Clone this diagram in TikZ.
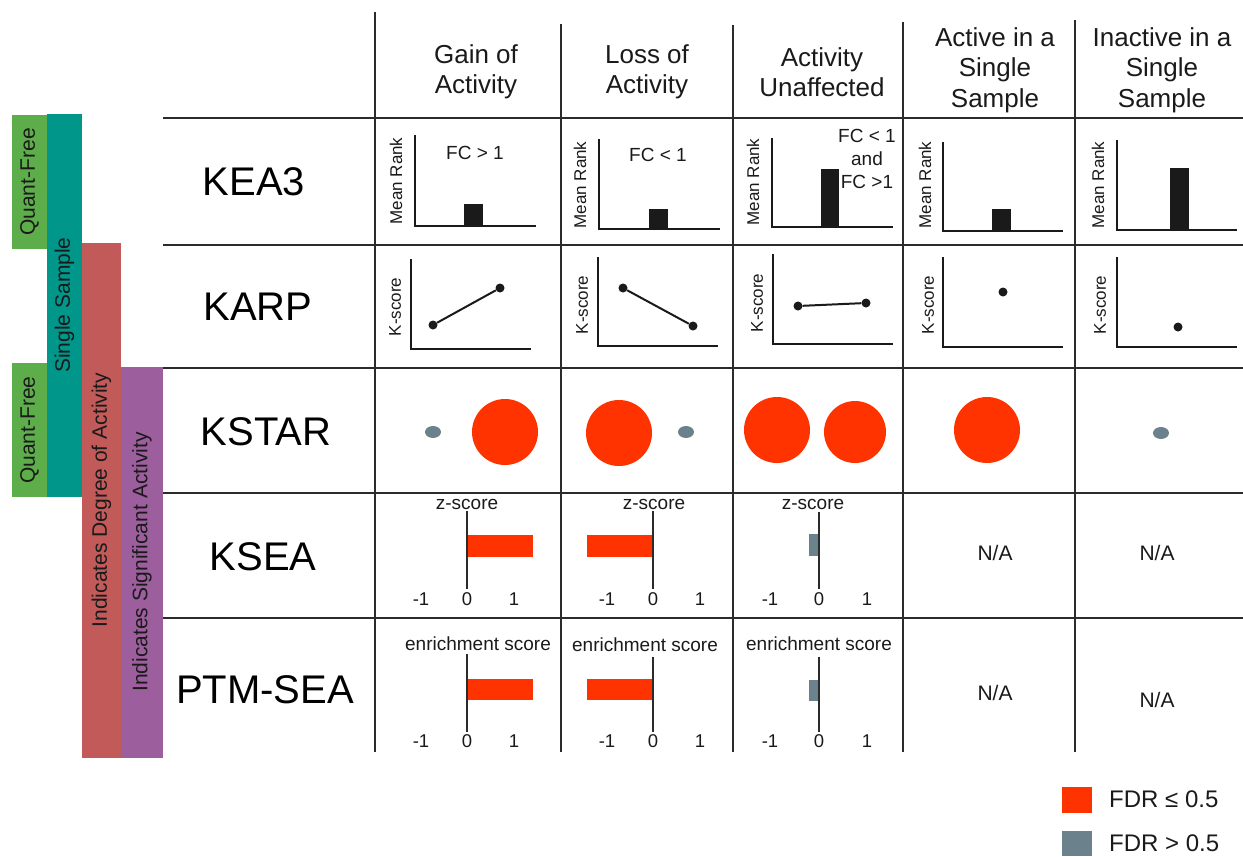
\documentclass[tikz,border=0pt]{standalone}
\usepackage{fontspec}
\setmainfont{Liberation Sans}
\definecolor{qgreen}{HTML}{5DAE4B}
\definecolor{steal}{HTML}{00968A}
\definecolor{dred}{HTML}{C25A5A}
\definecolor{dpurp}{HTML}{9D5E9D}
\definecolor{fdrred}{HTML}{FF3300}
\definecolor{fdrgray}{HTML}{6B818C}
\definecolor{gridc}{HTML}{2B2B2B}
\definecolor{ink}{HTML}{1A1A1A}
\tikzset{
  gridline/.style={line width=2.8pt, draw=gridc},
  axisline/.style={line width=2.6pt, draw=ink, line join=miter},
  zeroline/.style={line width=2.6pt, draw=gridc},
  barbox/.style={fill=ink},
  hdr/.style={align=center, text=ink, font=\fontsize{26}{30.5}\selectfont, inner sep=0pt},
  rowlab/.style={text=black, font=\fontsize{40}{44}\selectfont, inner sep=0pt},
  bartext/.style={rotate=90, text=ink, font=\fontsize{21}{24}\selectfont, inner sep=0pt},
  ylab/.style={rotate=90, text=ink, font=\fontsize{17}{19}\selectfont, inner sep=0pt},
  small/.style={text=ink, font=\fontsize{19}{23}\selectfont, inner sep=0pt, align=center},
  tick/.style={text=ink, font=\fontsize{18.5}{20}\selectfont, inner sep=0pt},
  na/.style={text=ink, font=\fontsize{21}{24}\selectfont, inner sep=0pt},
  legtext/.style={text=ink, font=\fontsize{24}{28}\selectfont, inner sep=0pt, anchor=west},
  dot/.style={circle, fill=ink, inner sep=0pt, minimum size=9pt},
  link/.style={line width=2pt, draw=ink},
}
\begin{document}
\begin{tikzpicture}[x=1pt,y=-1pt]
\useasboundingbox (0,0) rectangle (1243,857);

% ---- left category bars ----
\fill[qgreen] (12,115) rectangle (47,249);
\fill[steal] (47,114) rectangle (82,497);
\fill[qgreen] (12,363) rectangle (47,497);
\fill[dred] (82,243) rectangle (121,758);
\fill[dpurp] (121,367) rectangle (163,758);
\node[bartext] (qf1) at (29.5,182) {Quant-Free};
\node[bartext] (ss) at (64.5,305) {Single Sample};
\node[bartext] (qf2) at (29.5,430) {Quant-Free};
\node[bartext] (ida) at (101.5,500) {Indicates Degree of Activity};
\node[bartext] (isa) at (142,562) {Indicates Significant Activity};

% ---- grid ----
\foreach \yy in {118,245,368,493,618} \draw[gridline] (163,\yy) -- (1243,\yy);
\draw[gridline] (375,12) -- (375,752);
\draw[gridline] (561,24) -- (561,752);
\draw[gridline] (733,25) -- (733,752);
\draw[gridline] (903,22) -- (903,752);
\draw[gridline] (1075,20) -- (1075,752);

% ---- headers ----
\node[hdr] (h1) at (476,72) {Gain of\\Activity};
\node[hdr] (h2) at (647,72) {Loss of\\Activity};
\node[hdr] (h3) at (822,72) {Activity\\Unaffected};
\node[hdr] (h4) at (995,70) {Active in a\\Single\\Sample};
\node[hdr] (h5) at (1162,70) {Inactive in a\\Single\\Sample};

% ---- row labels ----
\node[rowlab] (r1) at (254,182) {KEA3};
\node[rowlab] (r2) at (258,307) {KARP};
\node[rowlab] (r3) at (266,432) {KSTAR};
\node[rowlab] (r4) at (263,557) {KSEA};
\node[rowlab] (r5) at (265,690) {PTM-SEA};

% ---- KEA3 ----
\draw[axisline] (415,135) -- (415,226) -- (536,226);
\fill[barbox] (464,204) rectangle (483,226);
\node[small] (k1t) at (475,153) {FC > 1};
\node[ylab] (k1y) at (396,181) {Mean Rank};

\draw[axisline] (599,139) -- (599,229) -- (720,229);
\fill[barbox] (649,209) rectangle (668,229);
\node[small] (k2t) at (658,155) {FC < 1};
\node[ylab] (k2y) at (580,185) {Mean Rank};

\draw[axisline] (772,138) -- (772,227) -- (893,227);
\fill[barbox] (821,169) rectangle (839,227);
\node[small] (k3t) at (867,159) {FC < 1\\and\\FC >1};
\node[ylab] (k3y) at (753,182) {Mean Rank};

\draw[axisline] (943,142) -- (943,231) -- (1063,231);
\fill[barbox] (992,209) rectangle (1011,231);
\node[ylab] (k4y) at (925,185) {Mean Rank};

\draw[axisline] (1117,140) -- (1117,230) -- (1237,230);
\fill[barbox] (1170,168) rectangle (1189,230);
\node[ylab] (k5y) at (1098,185) {Mean Rank};

% ---- KARP ----
\draw[axisline] (411,259) -- (411,349) -- (531,349);
\node[dot] (p1a) at (433,325) {};
\node[dot] (p1b) at (500,288) {};
\draw[link] (p1a) -- (p1b);
\node[ylab] (c1y) at (395,307) {K-score};

\draw[axisline] (598,257) -- (598,346) -- (718,346);
\node[dot] (p2a) at (623,288) {};
\node[dot] (p2b) at (693,326) {};
\draw[link] (p2a) -- (p2b);
\node[ylab] (c2y) at (582,305) {K-score};

\draw[axisline] (773,254) -- (773,344) -- (893,344);
\node[dot] (p3a) at (798,306) {};
\node[dot] (p3b) at (866,303) {};
\draw[link] (p3a) -- (p3b);
\node[ylab] (c3y) at (757,303) {K-score};

\draw[axisline] (943,257) -- (943,347) -- (1063,347);
\node[dot] (p4) at (1003,292) {};
\node[ylab] (c4y) at (928,305) {K-score};

\draw[axisline] (1117,257) -- (1117,347) -- (1237,347);
\node[dot] (p5) at (1178,327) {};
\node[ylab] (c5y) at (1100,305) {K-score};

% ---- KSTAR ----
\fill[fdrgray] (433,432) ellipse [x radius=8pt, y radius=6pt];
\fill[fdrred] (505,432) circle [radius=33pt];
\fill[fdrred] (619,433) circle [radius=33pt];
\fill[fdrgray] (686,432) ellipse [x radius=8pt, y radius=6pt];
\fill[fdrred] (777,430) circle [radius=33pt];
\fill[fdrred] (855,432) circle [radius=31pt];
\fill[fdrred] (987,430) circle [radius=33pt];
\fill[fdrgray] (1161,433) ellipse [x radius=8pt, y radius=6pt];

% ---- KSEA ----
\fill[fdrred] (467,535) rectangle (533,557);
\draw[zeroline] (467,511) -- (467,589);
\node[small] (z1) at (467,504) {z-score};
\node[tick] (z1a) at (421,599) {-1};
\node[tick] (z1b) at (467,599) {0};
\node[tick] (z1c) at (514,599) {1};

\fill[fdrred] (587,535) rectangle (653,557);
\draw[zeroline] (653,511) -- (653,589);
\node[small] (z2) at (654,504) {z-score};
\node[tick] (z2a) at (607,599) {-1};
\node[tick] (z2b) at (653,599) {0};
\node[tick] (z2c) at (700,599) {1};

\fill[fdrgray] (809,534) rectangle (819,556);
\draw[zeroline] (819,512) -- (819,589);
\node[small] (z3) at (813,504) {z-score};
\node[tick] (z3a) at (770,599) {-1};
\node[tick] (z3b) at (819,599) {0};
\node[tick] (z3c) at (867,599) {1};

\node[na] (na1) at (995,553) {N/A};
\node[na] (na2) at (1157,553) {N/A};

% ---- PTM-SEA ----
\fill[fdrred] (467,679) rectangle (533,700);
\draw[zeroline] (467,654) -- (467,732);
\node[small] (e1) at (478,644) {enrichment score};
\node[tick] (e1a) at (421,741) {-1};
\node[tick] (e1b) at (467,741) {0};
\node[tick] (e1c) at (514,741) {1};

\fill[fdrred] (587,679) rectangle (653,700);
\draw[zeroline] (653,657) -- (653,732);
\node[small] (e2) at (645,645) {enrichment score};
\node[tick] (e2a) at (607,741) {-1};
\node[tick] (e2b) at (653,741) {0};
\node[tick] (e2c) at (700,741) {1};

\fill[fdrgray] (809,680) rectangle (819,701);
\draw[zeroline] (819,657) -- (819,732);
\node[small] (e3) at (819,644) {enrichment score};
\node[tick] (e3a) at (770,741) {-1};
\node[tick] (e3b) at (819,741) {0};
\node[tick] (e3c) at (867,741) {1};

\node[na] (na3) at (995,693) {N/A};
\node[na] (na4) at (1157,700) {N/A};

% ---- legend ----
\fill[fdrred] (1062,787) rectangle (1092,813);
\fill[fdrgray] (1062,831) rectangle (1092,856);
\node[legtext] (l1) at (1109,799) {FDR ≤ 0.5};
\node[legtext] (l2) at (1109,843) {FDR > 0.5};
\end{tikzpicture}
\end{document}
